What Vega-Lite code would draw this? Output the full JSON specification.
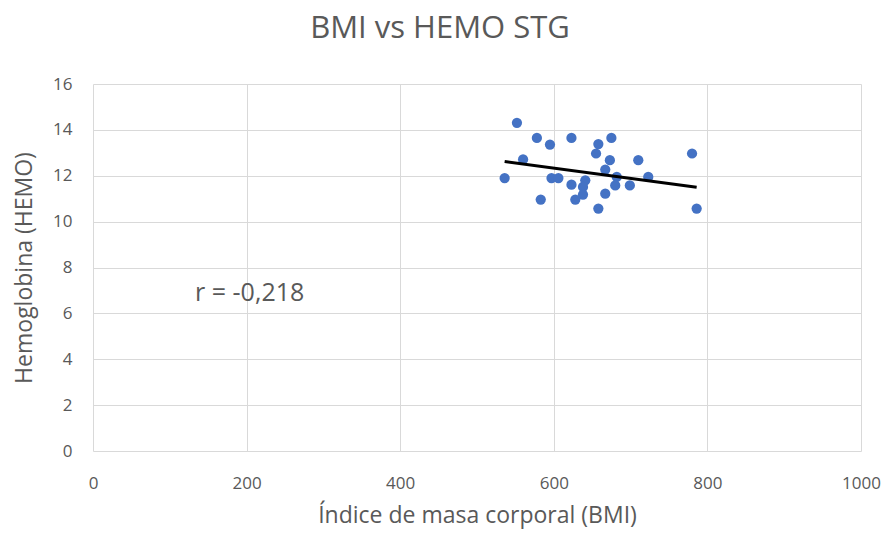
{
  "$schema": "https://vega.github.io/schema/vega-lite/v6.json",
  "autosize": "none",
  "width": 768,
  "height": 367,
  "padding": {"left": 93, "top": 84, "right": 26, "bottom": 87},
  "background": "white",
  "title": {"text": "BMI vs HEMO STG", "fontSize": 31, "font": "Open Sans", "fontWeight": "normal", "color": "#595959", "dx": -37, "offset": 30},
  "config": {"view": {"stroke": null}, "font": "Open Sans"},
  "datasets": {
    "trend": [
      {"bmi": 536, "hemo": 12.62},
      {"bmi": 786, "hemo": 11.5}
    ]
  },
  "data": {"values": [
    {"bmi": 552, "hemo": 14.31},
    {"bmi": 578, "hemo": 13.65},
    {"bmi": 595, "hemo": 13.36},
    {"bmi": 623, "hemo": 13.65},
    {"bmi": 675, "hemo": 13.65},
    {"bmi": 658, "hemo": 13.38},
    {"bmi": 655, "hemo": 12.97},
    {"bmi": 560, "hemo": 12.71},
    {"bmi": 673, "hemo": 12.68},
    {"bmi": 710, "hemo": 12.68},
    {"bmi": 780, "hemo": 12.97},
    {"bmi": 536, "hemo": 11.9},
    {"bmi": 597, "hemo": 11.9},
    {"bmi": 606, "hemo": 11.9},
    {"bmi": 667, "hemo": 12.27},
    {"bmi": 682, "hemo": 11.95},
    {"bmi": 723, "hemo": 11.95},
    {"bmi": 623, "hemo": 11.61},
    {"bmi": 641, "hemo": 11.8},
    {"bmi": 638, "hemo": 11.51},
    {"bmi": 680, "hemo": 11.58},
    {"bmi": 699, "hemo": 11.58},
    {"bmi": 667, "hemo": 11.22},
    {"bmi": 638, "hemo": 11.18},
    {"bmi": 628, "hemo": 10.96},
    {"bmi": 583, "hemo": 10.96},
    {"bmi": 658, "hemo": 10.57},
    {"bmi": 786, "hemo": 10.57}
  ]},
  "layer": [
    {
      "mark": {"type": "point", "filled": true, "size": 105, "color": "#4472C4", "opacity": 1},
      "encoding": {
        "x": {"field": "bmi", "type": "quantitative", "scale": {"domain": [0, 1000], "nice": false},
          "axis": {"values": [0, 200, 400, 600, 800, 1000], "format": "d", "title": "Índice de masa corporal (BMI)", "grid": true, "gridColor": "#d9d9d9", "domain": false, "ticks": false, "labelFontSize": 17, "labelColor": "#595959", "labelPadding": 24, "labelFlush": false, "titleFontSize": 23, "titleFontWeight": "normal", "titleColor": "#595959", "titlePadding": 13}},
        "y": {"field": "hemo", "type": "quantitative", "scale": {"domain": [0, 16], "nice": false},
          "axis": {"values": [0, 2, 4, 6, 8, 10, 12, 14, 16], "title": "Hemoglobina (HEMO)", "grid": true, "gridColor": "#d9d9d9", "domain": false, "ticks": false, "labelFontSize": 17, "labelColor": "#595959", "labelPadding": 21, "titleFontSize": 23, "titleFontWeight": "normal", "titleColor": "#595959", "titlePadding": 16}}
      }
    },
    {
      "data": {"name": "trend"},
      "mark": {"type": "line", "color": "black", "strokeWidth": 3},
      "encoding": {
        "x": {"field": "bmi", "type": "quantitative"},
        "y": {"field": "hemo", "type": "quantitative"}
      }
    },
    {
      "data": {"values": [{"x": 204, "y": 6.9, "label": "r = -0,218"}]},
      "mark": {"type": "text", "fontSize": 25, "color": "#595959", "align": "center", "baseline": "middle"},
      "encoding": {
        "x": {"field": "x", "type": "quantitative"},
        "y": {"field": "y", "type": "quantitative"},
        "text": {"field": "label"}
      }
    }
  ]
}
